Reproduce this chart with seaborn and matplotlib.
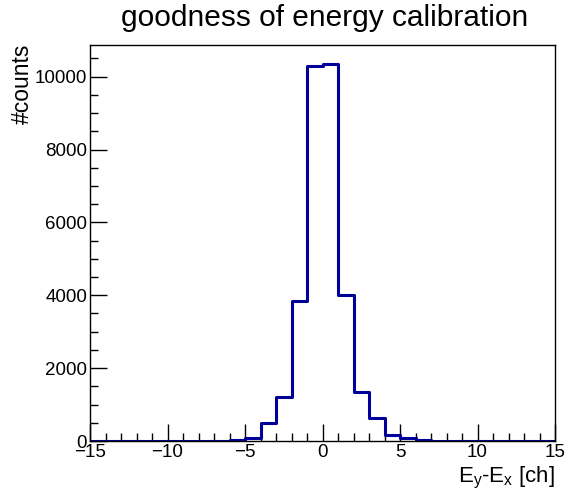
import numpy as np
import matplotlib
matplotlib.use("Agg")
import matplotlib.pyplot as plt
import seaborn as sns
from matplotlib.ticker import MultipleLocator

sns.set_style("ticks")
plt.rcParams['font.family'] = ['Liberation Sans', 'DejaVu Sans']
plt.rcParams['text.color'] = 'black'
plt.rcParams['xtick.color'] = 'black'
plt.rcParams['ytick.color'] = 'black'
plt.rcParams['axes.edgecolor'] = 'black'

bin_edges = list(range(-15, 16))
bin_centers = [e + 0.5 for e in range(-15, 15)]
counts = [0, 0, 0, 0, 0, 0, 0, 0, 5, 30, 80, 500, 1200, 3850, 10300,
          10350, 4010, 1355, 640, 175, 70, 40, 10, 3, 0, 0, 0, 0, 0, 0]

fig = plt.figure(figsize=(5.67, 4.96), dpi=100)
ax = fig.add_axes([90/567, 1-441/496, 465/567, 396/496])

sns.histplot(x=bin_centers, weights=counts, bins=bin_edges, element='step',
             fill=False, color='#000099', linewidth=2.2, ax=ax)

ax.set_xlim(-15, 15)
ax.set_ylim(0, 10870)
ax.xaxis.set_major_locator(MultipleLocator(5))
ax.xaxis.set_minor_locator(MultipleLocator(1))
ax.yaxis.set_major_locator(MultipleLocator(2000))
ax.yaxis.set_minor_locator(MultipleLocator(500))
ax.tick_params(which='major', direction='in', length=12, width=1, labelsize=13.5, pad=2,
               colors='black', labelcolor='black')
ax.tick_params(which='minor', direction='in', length=6, width=1, colors='black')
for s in ax.spines.values():
    s.set_linewidth(1)
    s.set_color('black')
    s.set_visible(True)

ax.set_xlabel('')
ax.set_ylabel('')
fig.text(555/567, 1-478/496, r'E$_\mathregular{y}$-E$_\mathregular{x}$ [ch]',
         ha='right', va='center', fontsize=16, color='black')
fig.text(22/567, 1-44/496, '#counts', rotation=90, ha='center', va='top',
         fontsize=16.5, color='black')
fig.text(325/567, 1-18/496, 'goodness of energy calibration', ha='center', va='center',
         fontsize=21.5, color='black')

fig.savefig('out.png', dpi=100)
